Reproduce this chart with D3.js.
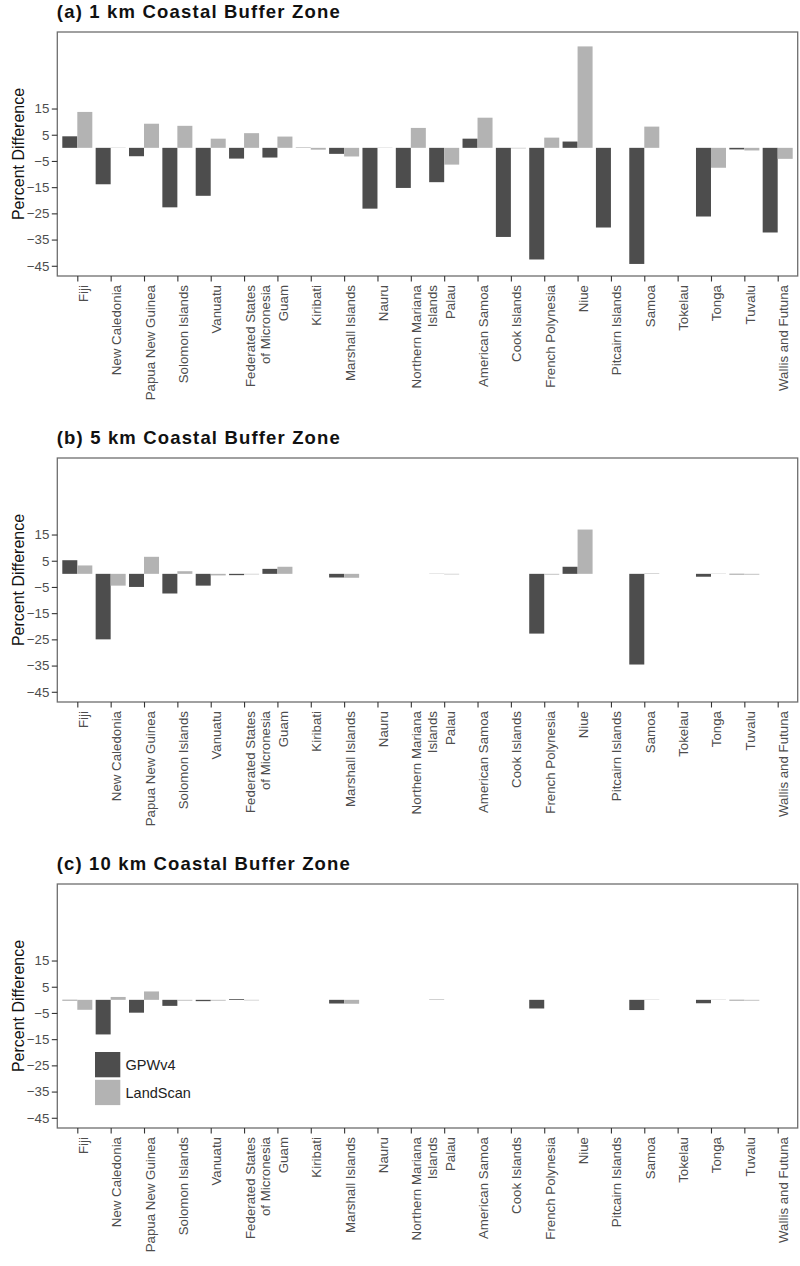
<!DOCTYPE html>
<html>
<head>
<meta charset="utf-8">
<script src="https://cdn.jsdelivr.net/npm/d3@7"></script>
<style>
  html, body { margin: 0; padding: 0; background: #fff; }
  svg { display: block; font-family: "Liberation Sans", Arial, Helvetica, sans-serif; }
</style>
</head>
<body>
<svg id="chart" width="800" height="1266"></svg>
<script>
// ---- data ----
const categories = ["Fiji", "New Caledonia", "Papua New Guinea", "Solomon Islands", "Vanuatu",
  "Federated States\nof Micronesia", "Guam", "Kiribati", "Marshall Islands", "Nauru",
  "Northern Mariana\nIslands", "Palau", "American Samoa", "Cook Islands", "French Polynesia",
  "Niue", "Pitcairn Islands", "Samoa", "Tokelau", "Tonga", "Tuvalu", "Wallis and Futuna"];

const seriesNames = ["GPWv4", "LandScan"];

const titles = ["(a) 1 km Coastal Buffer Zone", "(b) 5 km Coastal Buffer Zone", "(c) 10 km Coastal Buffer Zone"];

const gpw1km  = [4.4, -13.9, -3.2, -22.7, -18.3, -4.1, -3.7, 0.1, -2.3, -23.2, -15.3, -13.1, 3.5, -34.0, -42.6, 2.4, -30.4, -44.3, 0, -26.2, -0.6, -32.3];
const land1km = [13.7, 0.1, 9.2, 8.4, 3.5, 5.6, 4.3, -0.7, -3.3, 0.1, 7.6, -6.4, 11.5, -0.2, 3.9, 38.7, 0, 8.1, 0, -7.6, -1.0, -4.2];

const gpw5km  = [5.2, -25.0, -5.0, -7.5, -4.5, -0.5, 1.9, 0, -1.4, 0, 0, 0.05, 0, 0, -22.8, 2.7, 0, -34.6, 0, -1.1, -0.2, 0];
const land5km = [3.2, -4.5, 6.5, 1.0, -0.6, -0.2, 2.7, 0, -1.5, 0, 0, -0.2, 0, 0, -0.3, 16.9, 0, 0.2, 0, 0.1, -0.3, 0];

const gpw10km  = [-0.2, -13.2, -4.9, -2.3, -0.5, 0.3, 0, 0, -1.4, 0, 0, 0.1, 0, 0, -3.3, 0, 0, -3.9, 0, -1.3, -0.2, 0];
const land10km = [-3.8, 1.1, 3.2, -0.3, -0.3, -0.2, 0, 0, -1.5, 0, 0, 0, 0, 0, 0, 0, 0, 0.1, 0, 0.1, -0.3, 0];

const yTicks = [15, 5, -5, -15, -25, -35, -45];
const yDomain = [-48.9, 44.2];

// ---- layout ----
const svg = d3.select("#chart");
const left = 57.3, right = 797.7;
const panelH = 244;
const panelTops = [32, 458, 884];
const titleWidths = [283, 283, 293];
const colors = { GPWv4: "#4d4d4d", LandScan: "#b3b3b3" };
const tickCol = "#333";
const textCol = "#4d4d4d";

const x = d3.scalePoint().domain(categories).range([left, right]).padding(0.6);
const step = x.step();
const barW = step * 0.45;

const panelData = [[gpw1km, land1km], [gpw5km, land5km], [gpw10km, land10km]];

panelData.forEach((pd, pi) => {
  const top = panelTops[pi];
  const bottom = top + panelH;
  const y = d3.scaleLinear().domain(yDomain).range([bottom, top]);
  const g = svg.append("g");

  // title
  g.append("text")
    .attr("x", left - 0.5).attr("y", top - 14.5)
    .attr("font-size", 18.5).attr("font-weight", "bold").attr("fill", "#111")
    .attr("textLength", titleWidths[pi]).attr("lengthAdjust", "spacing")
    .text(titles[pi]);

  // bars
  const rows = [];
  categories.forEach((c, i) => {
    rows.push({ c, s: "GPWv4", v: pd[0][i], off: -barW });
    rows.push({ c, s: "LandScan", v: pd[1][i], off: 0 });
  });
  g.selectAll("rect.bar").data(rows).join("rect")
    .attr("class", "bar")
    .attr("x", d => x(d.c) + d.off)
    .attr("width", barW)
    .attr("y", d => y(Math.max(0, d.v)))
    .attr("height", d => Math.abs(y(d.v) - y(0)))
    .attr("fill", d => colors[d.s]);

  // panel border
  g.append("rect")
    .attr("x", left).attr("y", top)
    .attr("width", right - left).attr("height", panelH)
    .attr("fill", "none").attr("stroke", "#6e6e6e").attr("stroke-width", 1.3);

  // y axis
  const ya = g.append("g").attr("transform", `translate(${left},0)`)
    .call(d3.axisLeft(y).tickValues(yTicks).tickSize(5.5).tickPadding(2.5));
  ya.select(".domain").remove();
  ya.selectAll(".tick line").attr("stroke", tickCol).attr("stroke-width", 1.1);
  ya.selectAll(".tick text").attr("font-size", 13.3).attr("fill", textCol)
    .attr("font-family", "'Liberation Sans', Arial, sans-serif");

  // y title
  g.append("text")
    .attr("transform", `translate(24,${(top + bottom) / 2}) rotate(-90)`)
    .attr("text-anchor", "middle").attr("font-size", 16).attr("fill", "#111")
    .text("Percent Difference");

  // x axis
  const xa = g.append("g").attr("transform", `translate(0,${bottom})`)
    .call(d3.axisBottom(x).tickSize(5.5).tickFormat(""));
  xa.select(".domain").remove();
  xa.selectAll(".tick line").attr("stroke", tickCol).attr("stroke-width", 1.1);

  const lab = g.append("g");
  categories.forEach(c => {
    const t = lab.append("text")
      .attr("transform", `translate(${x(c) + 10.5},${bottom + 9}) rotate(-90)`)
      .attr("text-anchor", "end").attr("font-size", 13.3).attr("fill", textCol);
    c.split("\n").forEach((line, li) => {
      t.append("tspan").attr("x", 0).attr("y", li * 15.5).text(line);
    });
  });

  // legend in panel c
  if (pi === 2) {
    const lg = g.append("g");
    seriesNames.forEach((s, si) => {
      const ky = 1052 + si * 27.8;
      lg.append("rect").attr("x", 95).attr("y", ky).attr("width", 25.3).attr("height", 25.3)
        .attr("fill", colors[s]);
      lg.append("text").attr("x", 125.5).attr("y", ky + 18)
        .attr("font-size", 14.5).attr("fill", "#222").text(s);
    });
  }
});
</script>
</body>
</html>
